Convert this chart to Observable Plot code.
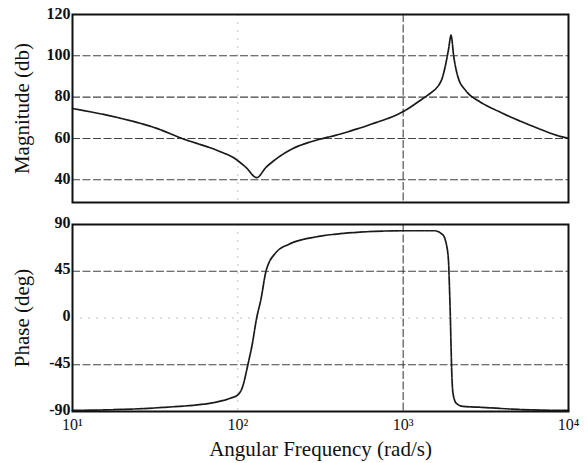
<!DOCTYPE html>
<html>
<head>
<meta charset="utf-8">
<script src="https://cdn.jsdelivr.net/npm/d3@7"></script>
<script src="https://cdn.jsdelivr.net/npm/@observablehq/plot@0.6"></script>
<style>
  html, body { margin: 0; padding: 0; background: #fff; }
  #chart { width: 588px; height: 463px; overflow: hidden; }
  #chart svg { display: block; }
</style>
</head>
<body>
<div id="chart"></div>
<script>
// Magnitude response
const magFreq = [10, 19, 32, 46, 76, 95, 112, 130, 148, 170, 214, 309, 389, 646, 1000, 1300, 1410, 1700, 1820, 1880, 1950, 2020, 2140, 2400, 2880, 3800, 6030, 8900, 10000];
const magDb   = [74.5, 70, 65, 60, 54, 50.5, 46, 41, 46, 50, 55, 59.5, 61.5, 67, 73, 79, 81, 88, 97, 103, 110, 100, 90, 83, 78, 73, 66, 61, 60];

// Phase response
const phFreq = [10, 20, 36, 74, 91, 100, 107, 115, 122, 130, 138, 148, 170, 204, 295, 407, 600, 1000, 1550, 1740, 1820, 1880, 1905, 1930, 1950, 1970, 2000, 2090, 2290, 3000, 5000, 10000];
const phDeg  = [-89, -88, -86, -81, -77, -74, -66, -45, -26, 0, 18, 45, 63, 71, 78, 81, 83, 84, 84, 80, 72, 55, 30, 0, -30, -55, -72, -82, -85, -86, -88, -89];

// Axis ticks
const xTicks = [10, 100, 1000, 10000];
const xTickLabels = ["10¹", "10²", "10³", "10⁴"];
const magTicks = [40, 60, 80, 100, 120];
const magGrid = [40, 60, 80, 100];
const phTicks = [-90, -45, 0, 45, 90];
const phGrid = [-45, 45];

const magData = magFreq.map((f, i) => ({f, v: magDb[i]}));
const phData = phFreq.map((f, i) => ({f, v: phDeg[i]}));

const font = "'Liberation Serif', 'DejaVu Serif', serif";
const baseStyle = {fontFamily: font, fontSize: "16px", color: "#111", background: "transparent"};
const gridDark = {stroke: "#222", strokeOpacity: 0.85, strokeWidth: 1.1, strokeDasharray: "8,2.5"};
const gridFaint = {stroke: "#999", strokeOpacity: 0.6, strokeWidth: 1, strokeDasharray: "2,6"};
const curve = {x: "f", y: "v", stroke: "#1a1a1a", strokeWidth: 1.7, strokeDasharray: "9,1.2", curve: "monotone-x"};

const magPlot = Plot.plot({
  width: 588, height: 212,
  marginLeft: 72, marginRight: 20, marginTop: 14, marginBottom: 10,
  style: baseStyle,
  x: {type: "log", domain: [10, 10000], axis: null},
  y: {domain: [29, 120], axis: null},
  marks: [
    Plot.gridY(magGrid, gridDark),
    Plot.gridX([1000], gridDark),
    Plot.gridX([100], gridFaint),
    Plot.line(magData, curve),
    Plot.frame({stroke: "#111", strokeWidth: 2}),
    Plot.axisY(magTicks, {
      anchor: "left", tickSize: 0, tickPadding: 2, fontWeight: "bold", dy: -1,
      tickFormat: d => String(d),
      label: "Magnitude (db)", labelAnchor: "center", labelArrow: "none", labelOffset: 58
    })
  ]
});

const phasePlot = Plot.plot({
  width: 588, height: 251,
  marginLeft: 72, marginRight: 20, marginTop: 12, marginBottom: 52,
  style: baseStyle,
  x: {type: "log", domain: [10, 10000]},
  y: {domain: [-90, 90], axis: null},
  marks: [
    Plot.gridY(phGrid, gridDark),
    Plot.gridY([0], gridFaint),
    Plot.gridX([1000], gridDark),
    Plot.gridX([100], gridFaint),
    Plot.line(phData, curve),
    Plot.frame({stroke: "#111", strokeWidth: 2}),
    Plot.axisY(phTicks, {
      anchor: "left", tickSize: 0, tickPadding: 2, fontWeight: "bold", dy: -2,
      tickFormat: d => String(d),
      label: "Phase (deg)", labelAnchor: "center", labelArrow: "none", labelOffset: 58
    }),
    Plot.axisX(xTicks, {
      anchor: "bottom", tickSize: 0, tickPadding: 7,
      tickFormat: d => xTickLabels[xTicks.indexOf(d)],
      label: "Angular Frequency (rad/s)", labelAnchor: "center", labelArrow: "none", labelOffset: 44
    })
  ]
});

const chart = document.getElementById("chart");
chart.appendChild(magPlot);
chart.appendChild(phasePlot);
// text sizes like the reference
for (const svg of [magPlot, phasePlot]) {
  svg.querySelectorAll("g[aria-label='y-axis tick label']").forEach(g => g.setAttribute("font-size", "16"));
  svg.querySelectorAll("g[aria-label='x-axis tick label']").forEach(g => g.setAttribute("font-size", "16"));
  svg.querySelectorAll("g[aria-label='y-axis label'] text").forEach(t => {
    t.setAttribute("font-size", "21");
    t.setAttribute("font-weight", "normal");
  });
  svg.querySelectorAll("g[aria-label='x-axis label'] text").forEach(t => {
    t.setAttribute("font-size", "21");
    t.setAttribute("font-weight", "normal");
  });
}
</script>
</body>
</html>
